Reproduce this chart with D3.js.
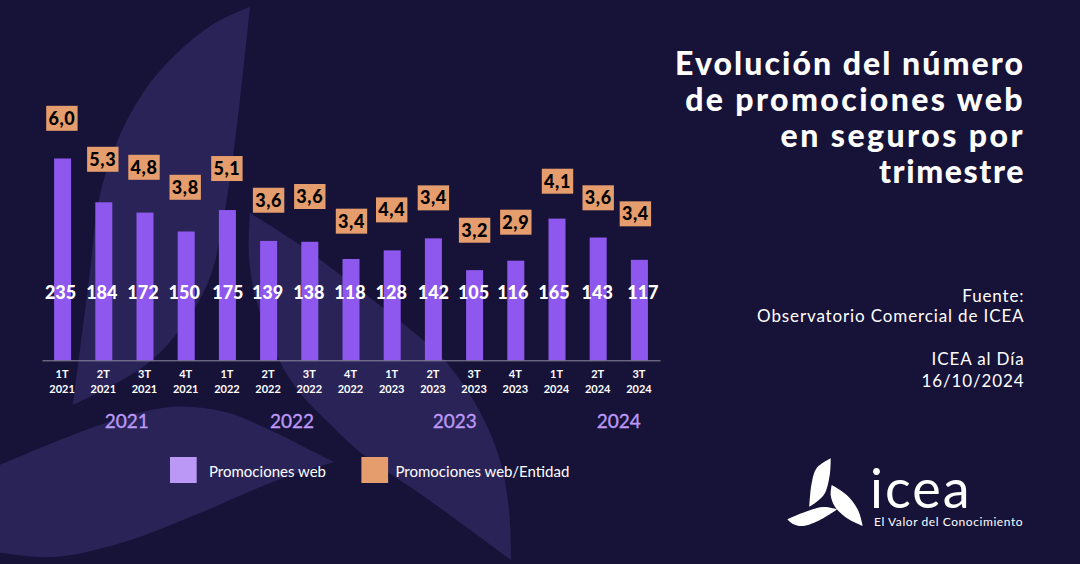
<!DOCTYPE html>
<html>
<head>
<meta charset="utf-8">
<script src="https://cdn.jsdelivr.net/npm/d3@7"></script>
<style>
    html, body { margin: 0; padding: 0; background: #171338; }
    svg { display: block; }
    text { font-family: Lato, sans-serif; }
</style>
</head>
<body>
<svg id="chart" width="1080" height="564"></svg>
<script>
const quarters = ['1T', '2T', '3T', '4T', '1T', '2T', '3T', '4T', '1T', '2T', '3T', '4T', '1T', '2T', '3T'];
const quarterYears = ['2021', '2021', '2021', '2021', '2022', '2022', '2022', '2022', '2023', '2023', '2023', '2023', '2024', '2024', '2024'];
const promocionesWeb = [235, 184, 172, 150, 175, 139, 138, 118, 128, 142, 105, 116, 165, 143, 117];
const promocionesEntidad = ['6,0', '5,3', '4,8', '3,8', '5,1', '3,6', '3,6', '3,4', '4,4', '3,4', '3,2', '2,9', '4,1', '3,6', '3,4'];
const yearLabels = ['2021', '2022', '2023', '2024'];
const legendLabels = ['Promociones web', 'Promociones web/Entidad'];
const titleLines = ['Evolución del número', 'de promociones web', 'en seguros por', 'trimestre'];

// hand placement of the labels in the original, kept apart from the values
const boxGap = [27.7, 30.5, 32.8, 31.7, 29, 28.2, 32.8, 25.3, 28, 28, 27.4, 26, 24.9, 27.2, 33.5];
const boxShift = [-0.7, -1, -1, -1, -0.5, 0, 0, 0.5, -0.5, 0, 0, 0, 0.5, 0, -4];
const valueShift = [-2, -2, -2, -2, 0.5, -1, -1, -1, -1, 0, -1, -3, -3, -1, 3.5];
const yearPositions = [1.56, 5.57, 9.52, 13.5];
const titleSpacing = [2.05, 2.4, 2.45, 1.6];

const colors = {
    background: '#171338',
    shape: '#2a2357',
    bar: '#8e57ee',
    box: '#e59d6d',
    light: '#bb98f5',
    axis: '#8f8ba0'
};

const svg = d3.select('#chart');
const ids = d3.range(quarters.length);

svg.append('rect').attr('width', 1080).attr('height', 564).attr('fill', colors.background);

// background watermark, same three blades as the logo
const curve = d3.line().curve(d3.curveCatmullRom.alpha(0.5));
function blade(upper, lower) {
    return curve(upper) + curve(lower).replace('M', 'L') + 'Z';
}

const watermark = svg.append('g').attr('fill', colors.shape);
watermark.append('path').attr('d', blade(
    [[250, 7], [215, 23], [175, 55], [145, 90], [120, 135], [100, 195], [89, 280], [73, 405]],
    [[73, 405], [143, 367], [178, 332], [209, 280], [225, 210], [240, 100], [250, 7]]
));
watermark.append('path').attr('d', blade(
    [[250, 213], [300, 245], [360, 290], [423, 340], [447, 363], [479, 410], [500, 460], [509, 510], [511, 560]],
    [[511, 560], [429, 500], [361, 453], [329, 423], [300, 393], [279, 360], [257, 303], [249, 257], [250, 213]]
));
watermark.append('path').attr('d', blade(
    [[-5, 467], [100, 425], [171, 407], [225, 412], [270, 430], [310, 450], [334, 462]],
    [[334, 462], [278, 480], [200, 513], [121, 543], [54, 557], [-5, 552]]
));

// scales
const x = d3.scaleBand()
    .domain(ids)
    .range([42, 660])
    .paddingInner(0.587)
    .paddingOuter(0.2935);

const y = d3.scaleLinear()
    .domain([0, 235])
    .range([360.3, 158.5]);

const barCenter = i => x(i) + x.bandwidth() / 2;

// bars
svg.append('g')
    .selectAll('rect')
    .data(promocionesWeb)
    .enter()
    .append('rect')
    .attr('x', (d, i) => x(i))
    .attr('y', d => y(d))
    .attr('width', x.bandwidth())
    .attr('height', d => y(0) - y(d))
    .attr('fill', colors.bar);

// axis with two line tick labels
const axis = svg.append('g')
    .attr('transform', `translate(0, ${y(0)})`)
    .call(d3.axisBottom(x).tickSizeInner(0).tickSizeOuter(0).tickFormat(() => ''));

axis.select('.domain').attr('stroke', colors.axis).attr('stroke-width', 1);

axis.selectAll('.tick text').each(function(i) {
    const label = d3.select(this)
        .attr('y', 0)
        .attr('dy', null)
        .attr('fill', '#ffffff')
        .attr('font-size', 11)
        .attr('font-weight', 700);
    label.append('tspan').attr('x', -0.5).attr('y', 18).text(quarters[i]);
    label.append('tspan').attr('x', -0.5).attr('y', 32.4).text(quarterYears[i]);
});

// value labels over the bars
svg.append('g')
    .selectAll('text')
    .data(promocionesWeb)
    .enter()
    .append('text')
    .attr('x', (d, i) => barCenter(i) + valueShift[i])
    .attr('y', 299)
    .attr('text-anchor', 'middle')
    .attr('fill', '#ffffff')
    .attr('font-size', 18)
    .attr('font-weight', 900)
    .text(d => d);

// ratio boxes
const boxes = svg.append('g')
    .selectAll('g')
    .data(promocionesEntidad)
    .enter()
    .append('g')
    .attr('transform', (d, i) => `translate(${barCenter(i) + boxShift[i]}, ${y(promocionesWeb[i]) - boxGap[i]})`);

boxes.append('rect')
    .attr('x', -15.7)
    .attr('y', -25)
    .attr('width', 31.4)
    .attr('height', 25)
    .attr('fill', colors.box);

boxes.append('text')
    .attr('y', -6)
    .attr('text-anchor', 'middle')
    .attr('fill', '#000000')
    .attr('font-size', 18)
    .attr('font-weight', 900)
    .attr('letter-spacing', 0.6)
    .text(d => d);

// year labels
svg.append('g')
    .selectAll('text')
    .data(yearLabels)
    .enter()
    .append('text')
    .attr('x', (d, i) => barCenter(0) + x.step() * yearPositions[i])
    .attr('y', 427.7)
    .attr('text-anchor', 'middle')
    .attr('fill', colors.light)
    .attr('stroke', colors.light)
    .attr('stroke-width', 0.35)
    .attr('font-size', 19)
    .text(d => d);

// legend
const legendX = [170, 361.4];
const legendTextX = [209, 395.5];
const legend = svg.append('g');
legendLabels.forEach(function(label, i) {
    legend.append('rect')
        .attr('x', legendX[i])
        .attr('y', 457)
        .attr('width', 26.7)
        .attr('height', 26)
        .attr('fill', i === 0 ? colors.light : colors.box);
    legend.append('text')
        .attr('x', legendTextX[i])
        .attr('y', 477)
        .attr('fill', '#ffffff')
        .attr('font-size', 15)
        .attr('letter-spacing', 0)
        .text(label);
});

// title
svg.append('g')
    .selectAll('text')
    .data(titleLines)
    .enter()
    .append('text')
    .attr('x', 1025)
    .attr('y', (d, i) => 75 + i * 36.1)
    .attr('text-anchor', 'end')
    .attr('fill', '#ffffff')
    .attr('font-size', 32)
    .attr('font-weight', 900)
    .attr('letter-spacing', (d, i) => titleSpacing[i])
    .text(d => d);

// source notes
const notes = [['Fuente:', 302], ['Observatorio Comercial de ICEA', 322.3], ['ICEA al Día', 365], ['16/10/2024', 386.7]];
svg.append('g')
    .selectAll('text')
    .data(notes)
    .enter()
    .append('text')
    .attr('x', 1024.5)
    .attr('y', d => d[1])
    .attr('text-anchor', 'end')
    .attr('fill', '#ffffff')
    .attr('font-size', 17)
    .attr('letter-spacing', 0.87)
    .text(d => d[0]);

// logo
const logo = svg.append('g').attr('fill', '#ffffff');
logo.append('path').attr('d', blade(
    [[830.7, 458.3], [816.7, 468], [811.7, 483], [809.3, 506.7]],
    [[809.3, 506.7], [816.7, 501.7], [825, 493], [830, 473], [830.7, 458.3]]
));
logo.append('path').attr('d', blade(
    [[831.7, 485], [846.7, 495], [858, 510], [862.7, 526]],
    [[862.7, 526], [846.7, 518], [835, 506.7], [830.7, 495], [831.7, 485]]
));
logo.append('path').attr('d', blade(
    [[787.3, 519.3], [803, 512.7], [823, 507], [837.3, 509.3]],
    [[837.3, 509.3], [820, 520], [803, 526], [793, 524], [787.3, 519.3]]
));
logo.append('text')
    .attr('x', 870)
    .attr('y', 508.3)
    .attr('font-size', 54)
    .attr('letter-spacing', 2)
    .text('icea');
logo.append('text')
    .attr('x', 874)
    .attr('y', 526)
    .attr('font-size', 12)
    .attr('letter-spacing', 0.57)
    .text('El Valor del Conocimiento');
</script>
</body>
</html>
